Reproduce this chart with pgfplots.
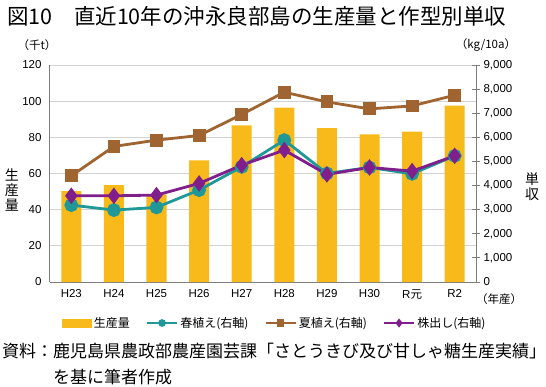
\documentclass[border=0pt]{standalone}
\usepackage{pgfplots}
\pgfplotsset{compat=1.18}
\usepackage{fontspec}
\setmainfont{Liberation Sans}
\newfontfamily\jp{Noto Sans CJK JP}
\definecolor{barY}{RGB}{248,186,26}
\definecolor{tealc}{RGB}{32,152,152}
\definecolor{brownc}{RGB}{160,100,48}
\definecolor{purpc}{RGB}{128,30,140}
\definecolor{gridc}{RGB}{210,210,210}
\definecolor{axc}{RGB}{125,125,125}
\begin{document}
\begin{tikzpicture}[x=1pt,y=1pt]
\path[use as bounding box] (0,0) rectangle (546,-386);
\begin{axis}[
  at={(50pt,-282pt)}, anchor=south west,
  scale only axis, width=426pt, height=217pt,
  xmin=-0.5, xmax=9.5, ymin=0, ymax=120,
  xtick={0,...,9},
  xticklabels={H23,H24,H25,H26,H27,H28,H29,H30,{R{\jp 元}},R2},
  ytick={0,20,...,120},
  axis x line*=bottom, axis y line*=left,
  ymajorgrids, grid style={gridc, line width=0.8pt},
  axis line style={axc, line width=1pt, -},
  major tick length=0pt,
  tick label style={font=\fontsize{11.5}{13}\selectfont},
  yticklabel style={xshift=-5pt},
  xticklabel style={yshift=-4pt},
  /pgf/number format/assume math mode=true,
]
\addplot[ybar, bar width=20pt, fill=barY, draw=none] coordinates {
  (0,50.3) (1,53.6) (2,48.5) (3,67.2) (4,86.6) (5,96.5) (6,85.1) (7,81.6) (8,83.2) (9,97.6)};
\end{axis}
\begin{axis}[
  at={(50pt,-282pt)}, anchor=south west,
  scale only axis, width=426pt, height=217pt,
  xmin=-0.5, xmax=9.5, ymin=0, ymax=9000,
  ytick={0,1000,...,9000},
  axis x line=none, axis y line*=right,
  axis line style={axc, line width=1pt, -},
  tick style={axc, line width=0.8pt},
  tick align=center, major tick length=8pt,
  tick label style={font=\fontsize{11.5}{13}\selectfont},
  /pgf/number format/.cd, 1000 sep={,}, assume math mode=true, /pgfplots/.cd,
  legend style={at={(0.528,-0.189)}, anchor=center, draw=none, fill=none,
    legend columns=4, font=\jp\fontsize{12}{14}\selectfont,
    /tikz/every odd column/.append style={column sep=0pt},
    /tikz/every even column/.append style={column sep=14pt}},
  legend cell align=left,
  legend image code/.code={\draw[mark repeat=2,mark phase=2,#1,mark size=2.6pt,line width=2.4pt] plot coordinates {(0pt,0pt)(15pt,0pt)(30pt,0pt)};},
]
\addlegendimage{legend image code/.code={\fill[barY] (0pt,-3.8pt) rectangle (29pt,3.8pt);}}
\addlegendentry{生産量}
\addplot[tealc, line width=2.8pt, mark=*, mark size=5.5pt, mark options={solid}] coordinates {
  (0,3190) (1,2983) (2,3094) (3,3812) (4,4776) (5,5884) (6,4503) (7,4751) (8,4488) (9,5234)};
\addlegendentry{春植え(右軸)}
\addplot[brownc, line width=2.8pt, mark=square*, mark size=5pt, mark options={solid}] coordinates {
  (0,4404) (1,5623) (2,5884) (3,6077) (4,6948) (5,7873) (6,7470) (7,7180) (8,7304) (9,7748)};
\addlegendentry{夏植え(右軸)}
\addplot[purpc, line width=2.8pt, mark=diamond*, mark size=6pt, mark options={solid}] coordinates {
  (0,3576) (1,3576) (2,3605) (3,4088) (4,4848) (5,5470) (6,4462) (7,4751) (8,4600) (9,5234)};
\addlegendentry{株出し(右軸)}
\end{axis}
\node[anchor=west, font=\jp\fontsize{21.5}{24}\selectfont, inner sep=0pt] at (7,-16) {図10　直近10年の沖永良部島の生産量と作型別単収};
\node[font=\jp\fontsize{11.5}{13}\selectfont] at (37,-45) {（千t）};
\node[font=\jp\fontsize{11.5}{13}\selectfont] at (486,-45) {（kg/10a）};
\node[font=\jp\fontsize{14}{15}\selectfont, align=center] at (12,-190) {生\\産\\量};
\node[font=\jp\fontsize{14}{15}\selectfont, align=center] at (532,-187) {単\\収};
\node[font=\jp\fontsize{11.5}{13}\selectfont] at (499,-299) {（年産）};
\node[anchor=west, font=\jp\fontsize{17}{19}\selectfont, inner sep=0pt] at (2,-351) {資料：鹿児島県農政部農産園芸課「さとうきび及び甘しゃ糖生産実績」};
\node[anchor=west, font=\jp\fontsize{17}{19}\selectfont, inner sep=0pt] at (53,-377) {を基に筆者作成};
\end{tikzpicture}
\end{document}
